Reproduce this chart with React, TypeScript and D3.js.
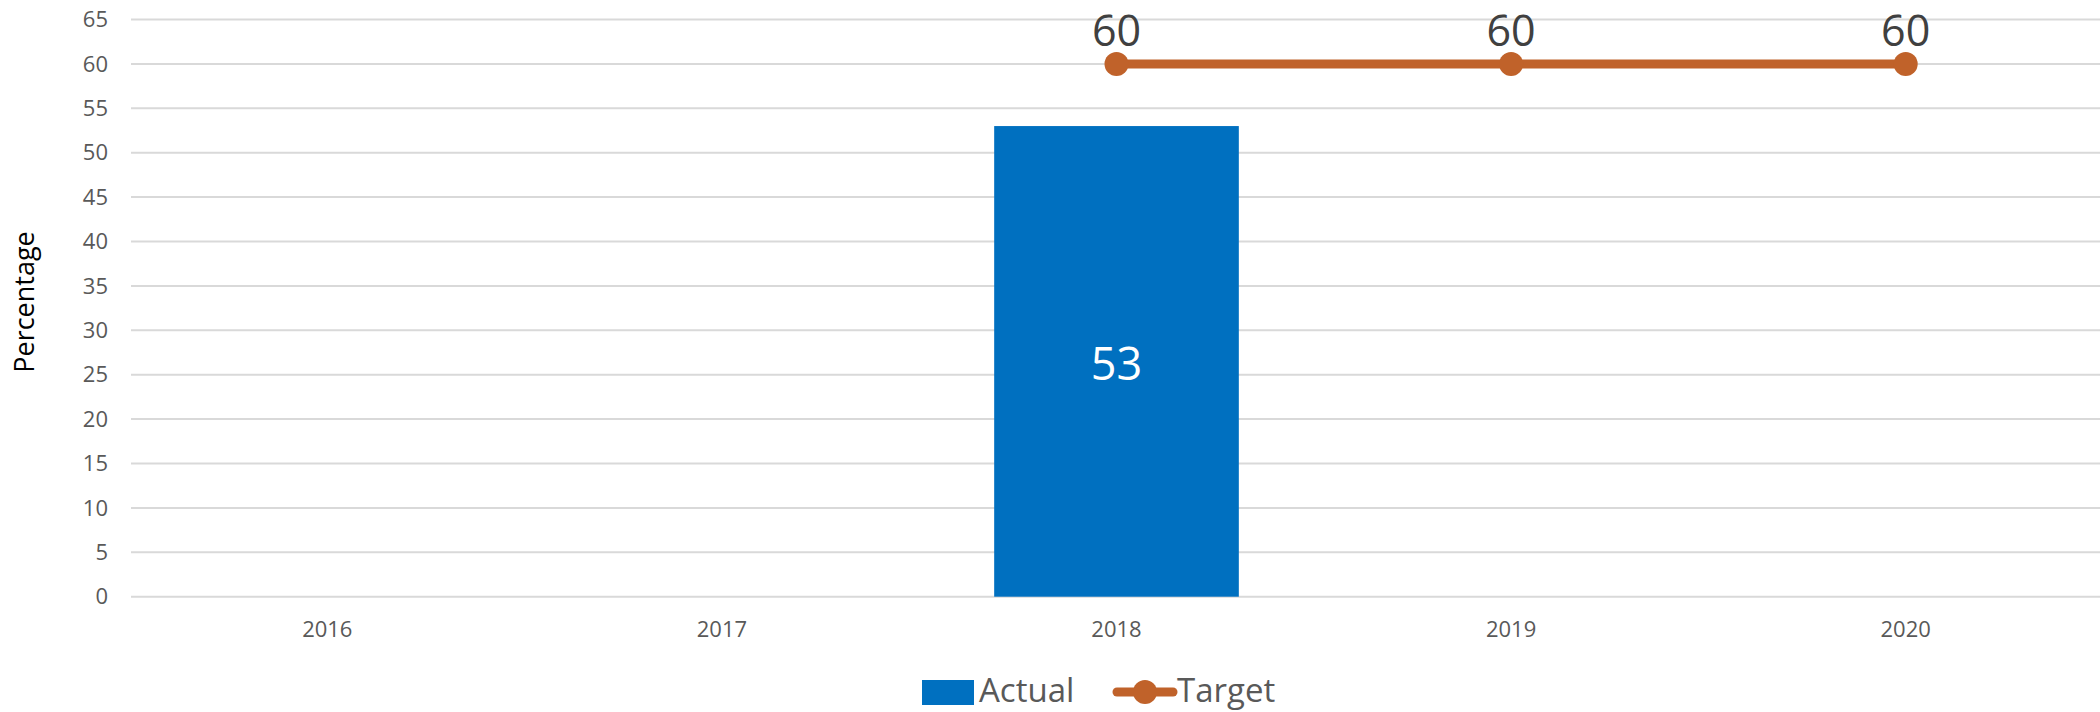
import React from "react";
import * as d3 from "d3";

const years = ["2016", "2017", "2018", "2019", "2020"];
const actual: (number | null)[] = [null, null, 53, null, null];
const target: (number | null)[] = [null, null, 60, 60, 60];
const yTicks = [0, 5, 10, 15, 20, 25, 30, 35, 40, 45, 50, 55, 60, 65];

const W = 2100;
const H = 712;
const FONT = "'Open Sans', sans-serif";

export default function App() {
  const x = d3.scaleBand<string>().domain(years).range([130, 2103]).paddingInner(0).paddingOuter(0);
  const y = d3.scaleLinear().domain([0, 65]).range([596.7, 19.5]);
  const barW = x.bandwidth() * 0.62;
  const cx = (yr: string) => (x(yr) as number) + x.bandwidth() / 2;

  const linePts = years
    .map((yr, i) => ({ yr, v: target[i] }))
    .filter((d) => d.v !== null) as { yr: string; v: number }[];
  const lineGen = d3
    .line<{ yr: string; v: number }>()
    .x((d) => cx(d.yr))
    .y((d) => y(d.v));

  return (
    <svg width={W} height={H} style={{ position: "absolute", left: 0, top: 0, background: "#fff" }} fontFamily={FONT}>
      {/* gridlines */}
      {yTicks.map((t) => (
        <line key={t} x1={131} x2={W} y1={y(t)} y2={y(t)} stroke="#D9D9D9" strokeWidth={2} />
      ))}
      {/* y tick labels */}
      {yTicks.map((t) => (
        <text key={"l" + t} x={108} y={y(t)} dy="0.35em" textAnchor="end" fontSize={22} fill="#595959">
          {t}
        </text>
      ))}
      {/* x labels */}
      {years.map((yr) => (
        <text key={yr} x={cx(yr)} y={637} textAnchor="middle" fontSize={22} fill="#595959">
          {yr}
        </text>
      ))}
      {/* y axis title */}
      <text transform={`translate(34,302) rotate(-90)`} textAnchor="middle" fontSize={27} fill="#000">
        Percentage
      </text>
      {/* bars */}
      {years.map((yr, i) =>
        actual[i] === null ? null : (
          <g key={"b" + yr}>
            <rect
              x={cx(yr) - barW / 2}
              y={y(actual[i] as number)}
              width={barW}
              height={y(0) - y(actual[i] as number)}
              fill="#0070C0"
            />
            <text
              x={cx(yr)}
              y={(y(actual[i] as number) + y(0)) / 2 + 2}
              dy="0.36em"
              textAnchor="middle"
              fontSize={45}
              fill="#FFFFFF"
            >
              {actual[i]}
            </text>
          </g>
        )
      )}
      {/* target line */}
      <path d={lineGen(linePts) || ""} fill="none" stroke="#C0622A" strokeWidth={9} strokeLinecap="round" />
      {linePts.map((d) => (
        <g key={"p" + d.yr}>
          <circle cx={cx(d.yr)} cy={y(d.v)} r={12} fill="#C0622A" />
          <text x={cx(d.yr)} y={y(d.v) - 18} textAnchor="middle" fontSize={43} fill="#404040">
            {d.v}
          </text>
        </g>
      ))}
      {/* legend */}
      <rect x={922} y={680} width={52} height={25} fill="#0070C0" />
      <text x={979} y={702} fontSize={33} fill="#595959">
        Actual
      </text>
      <line x1={1117} x2={1173} y1={692} y2={692} stroke="#C0622A" strokeWidth={9} strokeLinecap="round" />
      <circle cx={1145} cy={692} r={12} fill="#C0622A" />
      <text x={1177} y={702} fontSize={33} fill="#595959">
        Target
      </text>
    </svg>
  );
}
